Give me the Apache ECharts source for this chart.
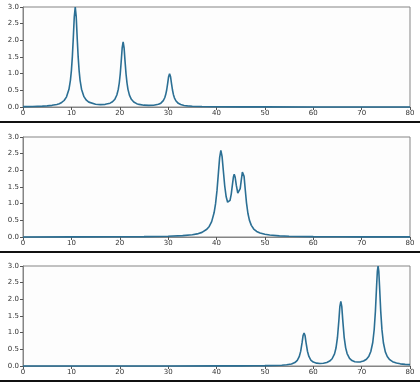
<!DOCTYPE html>
<html>
<head>
<meta charset="utf-8">
<script src="https://cdn.jsdelivr.net/npm/echarts@6/dist/echarts.min.js"></script>
<style>
html,body{margin:0;padding:0;background:#ffffff;}
#chart{width:420px;height:383px;}
</style>
</head>
<body>
<div id="chart"></div>
<script>
// Tick definitions
var xMin = 0, xMax = 80, xStep = 10;
var yMin = 0, yMax = 3, yStep = 0.5;

// Panel 1 (top)
var xs1 = [0,2,4,5,6,7,7.5,8,8.5,9,9.5,9.8,10,10.2,10.4,10.6,10.8,11,11.2,11.4,11.6,11.8,12.1,12.6,13.1,13.6,14,15,16,17,18,18.5,19,19.4,19.7,19.9,20.1,20.3,20.5,20.7,20.9,21.1,21.3,21.5,21.7,22,22.4,22.9,23.5,24,25,26,27,28,28.5,29,29.3,29.5,29.7,29.9,30.1,30.3,30.5,30.7,30.9,31.1,31.3,31.6,32.1,32.6,33.3,34,35,37,40,45,50,60,70,80];
var ys1 = [0.011,0.016,0.026,0.035,0.05,0.077,0.10,0.136,0.195,0.305,0.53,0.80,1.085,1.505,2.08,2.705,3.0,2.71,2.08,1.51,1.09,0.80,0.536,0.31,0.203,0.146,0.118,0.083,0.072,0.08,0.115,0.156,0.235,0.36,0.533,0.72,0.99,1.365,1.77,1.95,1.77,1.36,0.99,0.72,0.53,0.356,0.23,0.149,0.10,0.078,0.055,0.048,0.054,0.08,0.115,0.19,0.277,0.372,0.51,0.70,0.91,1.0,0.91,0.70,0.51,0.37,0.275,0.187,0.11,0.073,0.047,0.034,0.023,0.014,0.008,0.004,0.003,0.002,0.001,0.001];

// Panel 2 (middle)
var xs2 = [0,10,20,25,30,33,35,36,37,38,38.5,39,39.5,39.8,40.1,40.4,40.65,40.9,41.15,41.4,41.7,42,42.3,42.55,42.8,43.05,43.3,43.5,43.66,43.85,44.1,44.4,44.65,44.9,45.15,45.35,45.5,45.7,45.95,46.2,46.5,46.8,47.2,47.7,48.3,49,50,51,53,55,60,65,70,80];
var ys2 = [0.002,0.004,0.007,0.011,0.022,0.040,0.067,0.093,0.139,0.232,0.317,0.462,0.726,0.993,1.39,1.93,2.38,2.6,2.42,2.01,1.53,1.206,1.045,1.022,1.097,1.287,1.579,1.804,1.881,1.80,1.546,1.319,1.30,1.45,1.737,1.948,1.99,1.82,1.41,1.026,0.705,0.507,0.349,0.239,0.166,0.118,0.08,0.058,0.035,0.024,0.012,0.007,0.005,0.003];

// Panel 3 (bottom)
var xs3 = [0,20,30,40,45,48,50,52,53.5,54.5,55.5,56.2,56.7,57.1,57.4,57.7,57.9,58.1,58.3,58.5,58.8,59.1,59.5,60,60.7,61.4,62.1,62.8,63.4,63.9,64.4,64.7,65,65.3,65.5,65.7,65.9,66.1,66.4,66.7,67,67.5,68,68.6,69.2,69.8,70.4,71,71.5,71.9,72.3,72.6,72.85,73.1,73.25,73.4,73.55,73.7,73.95,74.2,74.5,74.9,75.3,75.8,76.4,77.2,78,79,80];
var ys3 = [0.001,0.001,0.002,0.003,0.005,0.007,0.010,0.016,0.024,0.036,0.061,0.102,0.168,0.278,0.438,0.707,0.916,0.99,0.917,0.71,0.444,0.286,0.179,0.118,0.085,0.077,0.083,0.106,0.148,0.217,0.364,0.538,0.849,1.373,1.78,1.94,1.78,1.376,0.853,0.545,0.373,0.23,0.164,0.129,0.119,0.125,0.149,0.203,0.295,0.434,0.706,1.096,1.644,2.414,2.837,3.0,2.837,2.41,1.64,1.09,0.697,0.423,0.285,0.19,0.13,0.088,0.065,0.05,0.04];

var panels = [[xs1, ys1], [xs2, ys2], [xs3, ys3]];

var lineColor = '#2b6f94';
var frameColor = '#858585';
var font = 'DejaVu Sans';

var gridTops = [7, 137, 266];
var gridH = 100;

var grids = [], xAxes = [], yAxes = [], series = [];
panels.forEach(function (p, i) {
  grids.push({
    left: 23, right: 10, top: gridTops[i], height: gridH,
    show: true, borderColor: frameColor, borderWidth: 1,
    backgroundColor: '#fdfdfd'
  });
  xAxes.push({
    type: 'value', gridIndex: i, min: xMin, max: xMax, interval: xStep,
    axisLine: { show: true, onZero: false, lineStyle: { color: frameColor, width: 1 } },
    axisTick: { show: true, length: 3, lineStyle: { color: '#555' } },
    axisLabel: { fontSize: 7, color: '#333', fontFamily: font, margin: 3 },
    splitLine: { show: false }
  });
  yAxes.push({
    type: 'value', gridIndex: i, min: yMin, max: yMax, interval: yStep,
    axisLine: { show: true, onZero: false, lineStyle: { color: frameColor, width: 1 } },
    axisTick: { show: true, length: 3, lineStyle: { color: '#555' } },
    axisLabel: { fontSize: 7, color: '#333', fontFamily: font, margin: 4,
      formatter: function (v) { return v.toFixed(1); } },
    splitLine: { show: false }
  });
  series.push({
    type: 'line', xAxisIndex: i, yAxisIndex: i,
    data: p[0].map(function (x, k) { return [x, p[1][k]]; }),
    showSymbol: false, symbol: 'none', smooth: false,
    lineStyle: { color: lineColor, width: 1.6 },
    clip: false, animation: false
  });
});

var chart = echarts.init(document.getElementById('chart'), null, { renderer: 'canvas' });
chart.setOption({
  animation: false,
  backgroundColor: '#ffffff',
  grid: grids,
  xAxis: xAxes,
  yAxis: yAxes,
  series: series,
  graphic: [
    { type: 'rect', shape: { x: 0, y: 121, width: 420, height: 2 }, style: { fill: '#111' } },
    { type: 'rect', shape: { x: 0, y: 251, width: 420, height: 2 }, style: { fill: '#111' } },
    { type: 'rect', shape: { x: 0, y: 380, width: 420, height: 2 }, style: { fill: '#111' } }
  ]
});
</script>
</body>
</html>
